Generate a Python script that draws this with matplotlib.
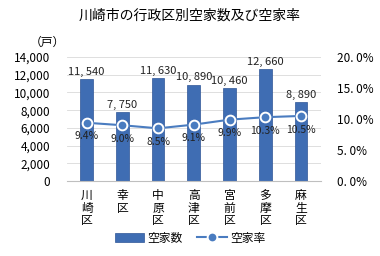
import numpy as np
import matplotlib.pyplot as plt

plt.rcParams['font.family'] = ['Noto Sans CJK JP', 'DejaVu Sans']

# データ
wards = ['川\n崎\n区', '幸\n区', '中\n原\n区', '高\n津\n区', '宮\n前\n区', '多\n摩\n区', '麻\n生\n区']
vacant = [11540, 7750, 11630, 10890, 10460, 12660, 8890]
rate = [9.4, 9.0, 8.5, 9.1, 9.9, 10.3, 10.5]

bar_color = '#3F6DB3'
line_color = '#4A7CC0'

fig = plt.figure(figsize=(3.8, 2.56), dpi=100)
ax = fig.add_axes([0.176, 0.293, 0.668, 0.484])
x = np.arange(len(wards))

# 棒グラフ
ax.bar(x, vacant, width=0.36, color=bar_color, edgecolor='#2F5597', linewidth=0.5,
       label='空家数', zorder=2)
for xi, v in zip(x, vacant):
    ax.text(xi, v + 250, f'{v:,}'.replace(',', ', '), ha='center', va='bottom',
            fontsize=8, color='#222222')

ax.set_ylim(0, 14000)
ax.set_yticks(np.arange(0, 14001, 2000))
ax.set_yticklabels([f'{t:,}' for t in range(0, 14001, 2000)], fontsize=8.5)
ax.set_xlim(-0.55, len(wards) - 0.45)
ax.set_xticks(x)
ax.set_xticklabels(wards, fontsize=8.5, linespacing=0.95)
ax.grid(axis='y', color='#D9D9D9', linewidth=0.6, zorder=0)
ax.set_axisbelow(True)
ax.tick_params(axis='y', length=0, pad=12)
ax.tick_params(axis='x', length=0, pad=6)
for s in ['top', 'right', 'left']:
    ax.spines[s].set_visible(False)
ax.spines['bottom'].set_color('#BFBFBF')

# 空家率（折れ線）
ax2 = ax.twinx()
ax2.plot(x, rate, color=line_color, linewidth=1.5, marker='o', markersize=7,
         markerfacecolor=line_color, markeredgecolor='white', markeredgewidth=1.4,
         label='空家率', zorder=3)
for xi, r in zip(x, rate):
    ax2.text(xi, r - 1.4, f'{r:.1f}%', ha='center', va='top', fontsize=7.5, color='#222222')
ax2.set_ylim(0, 20)
ax2.set_yticks(np.arange(0, 20.1, 5))
ax2.set_yticklabels([f'{t:.1f}'.replace('.', '. ') + '%' for t in np.arange(0, 20.1, 5)], fontsize=8.5)
ax2.tick_params(length=0, pad=12)
for s in ax2.spines.values():
    s.set_visible(False)

fig.text(0.5, 0.94, '川崎市の行政区別空家数及び空家率', ha='center', va='center', fontsize=10)
fig.text(0.125, 0.835, '（戸）', ha='center', va='center', fontsize=8.5)

h1, l1 = ax.get_legend_handles_labels()
h2, l2 = ax2.get_legend_handles_labels()
fig.legend(h1 + h2, l1 + l2, loc='center', bbox_to_anchor=(0.5, 0.07), ncol=2,
           frameon=False, fontsize=8.5, handlelength=2.5, columnspacing=1.2,
           handletextpad=0.3)

fig.savefig('out.png', dpi=100)
